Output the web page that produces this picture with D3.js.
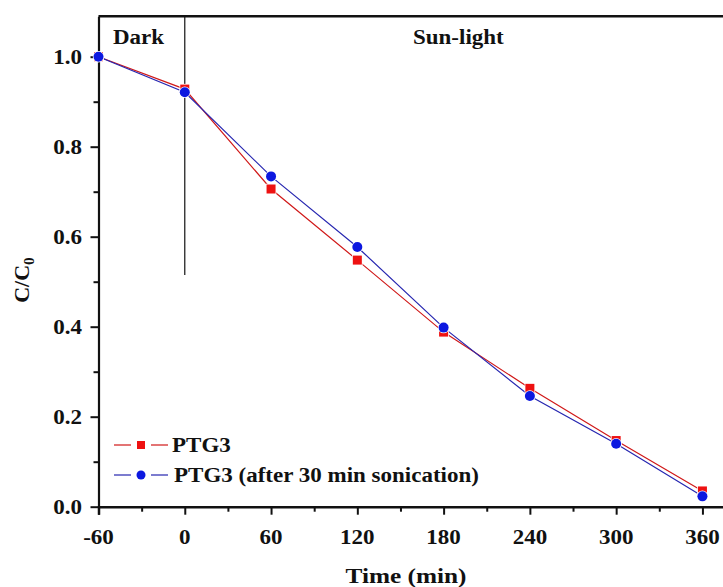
<!DOCTYPE html>
<html>
<head>
<meta charset="utf-8">
<script src="https://cdn.jsdelivr.net/npm/d3@7"></script>
<style>
  body { margin: 0; background: #fff; }
  svg text { font-family: "Liberation Serif", "Times New Roman", serif; font-weight: bold; fill: #111; }
</style>
</head>
<body>
<div id="chart"></div>
<script>
// data
let times = [-60, 0, 60, 120, 180, 240, 300, 360]
let ptg3 = [1.0, 0.928, 0.706, 0.548, 0.388, 0.263, 0.147, 0.035]
let ptg3Sonic = [1.0, 0.921, 0.734, 0.577, 0.398, 0.246, 0.140, 0.023]
let xTicks = [-60, 0, 60, 120, 180, 240, 300, 360]
let xMinor = [-30, 30, 90, 150, 210, 270, 330]
let yTicks = [0, 0.2, 0.4, 0.6, 0.8, 1.0]
let yMinor = [0.1, 0.3, 0.5, 0.7, 0.9]
let seriesNames = ['PTG3', 'PTG3 (after 30 min sonication)']

let W = 723, H = 587
let sx = 1.15   // glyphs in the picture are a bit stretched sideways

let svg = d3.select('#chart').append('svg').attr('width', W).attr('height', H)

let xScale = d3.scaleLinear().domain([-60, 375]).range([98.5, 724])
let yScale = d3.scaleLinear().domain([0, 1.09]).range([506.7, 16.2])

function label(g, x, y, txt, anchor, size) {
  return g.append('text')
    .attr('transform', `translate(${x},${y}) scale(${sx},1)`)
    .attr('text-anchor', anchor)
    .attr('font-size', size)
    .text(txt)
}

// top frame
svg.append('line')
  .attr('x1', xScale(-60)).attr('x2', xScale(375))
  .attr('y1', yScale(1.09)).attr('y2', yScale(1.09))
  .attr('stroke', '#111').attr('stroke-width', 2.5)

// axes
let xAxis = d3.axisBottom(xScale).tickValues(xTicks).tickSize(8).tickFormat('')
let xg = svg.append('g').attr('transform', `translate(0,${yScale(0)})`).call(xAxis)
xg.select('.domain').attr('stroke-width', 2.5).attr('stroke', '#111')
xg.selectAll('.tick line').attr('stroke-width', 2).attr('stroke', '#111')
let xm = svg.append('g').attr('transform', `translate(0,${yScale(0)})`)
  .call(d3.axisBottom(xScale).tickValues(xMinor).tickSize(5).tickFormat(''))
xm.select('.domain').remove()
xm.selectAll('.tick line').attr('stroke-width', 2).attr('stroke', '#111')

let yAxis = d3.axisLeft(yScale).tickValues(yTicks).tickSize(8).tickSizeOuter(0).tickFormat('')
let yg = svg.append('g').attr('transform', `translate(${xScale(-60)},0)`).call(yAxis)
yg.select('.domain').attr('stroke-width', 2.2).attr('stroke', '#111')
yg.selectAll('.tick line').attr('stroke-width', 2).attr('stroke', '#111')
let ym = svg.append('g').attr('transform', `translate(${xScale(-60)},0)`)
  .call(d3.axisLeft(yScale).tickValues(yMinor).tickSize(5).tickFormat(''))
ym.select('.domain').remove()
ym.selectAll('.tick line').attr('stroke-width', 2).attr('stroke', '#111')

// tick labels
xTicks.forEach(t => label(svg, xScale(t), 543.5, t, 'middle', 20))
yTicks.forEach(t => label(svg, 82, yScale(t) + 7, d3.format('.1f')(t), 'end', 20))

// axis titles
label(svg, 406, 583, 'Time (min)', 'middle', 22)
let yl = svg.append('text')
  .attr('transform', 'translate(29,280) rotate(-90) scale(1.1,1)')
  .attr('text-anchor', 'middle')
  .attr('font-size', 20)
yl.append('tspan').text('C/C')
yl.append('tspan').attr('font-size', 14).attr('dy', 5).text('0')

// dark / light split
svg.append('line')
  .attr('x1', xScale(0)).attr('x2', xScale(0))
  .attr('y1', yScale(1.09)).attr('y2', yScale(0.515))
  .attr('stroke', '#111').attr('stroke-width', 1.2)
label(svg, 113, 43.5, 'Dark', 'start', 20)
label(svg, 413, 43.5, 'Sun-light', 'start', 20)

// series
let line = d3.line().x((d, i) => xScale(times[i])).y(d => yScale(d))
svg.append('path').datum(ptg3).attr('d', line)
  .attr('fill', 'none').attr('stroke', '#d01818').attr('stroke-width', 1.2)
svg.append('path').datum(ptg3Sonic).attr('d', line)
  .attr('fill', 'none').attr('stroke', '#2626b0').attr('stroke-width', 1.2)

svg.append('g').selectAll('rect').data(ptg3).enter().append('rect')
  .attr('x', (d, i) => xScale(times[i]) - 4.5)
  .attr('y', d => yScale(d) - 4.5)
  .attr('width', 9).attr('height', 9)
  .attr('fill', '#ee1111')
  .attr('stroke', '#fff').attr('stroke-width', 1.5).attr('paint-order', 'stroke')
svg.append('g').selectAll('circle').data(ptg3Sonic).enter().append('circle')
  .attr('cx', (d, i) => xScale(times[i]))
  .attr('cy', d => yScale(d))
  .attr('r', 5)
  .attr('fill', '#0c18e0')
  .attr('stroke', '#fff').attr('stroke-width', 1.5).attr('paint-order', 'stroke')

// legend: short line pieces either side of the marker
let lg = svg.append('g')
let rows = [445, 475]
let legColors = [['#d01818', '#ee1111'], ['#2626b0', '#0c18e0']]
rows.forEach((ry, k) => {
  lg.append('line').attr('x1', 114).attr('x2', 131).attr('y1', ry).attr('y2', ry)
    .attr('stroke', legColors[k][0]).attr('stroke-width', 1.2)
  lg.append('line').attr('x1', 151).attr('x2', 168).attr('y1', ry).attr('y2', ry)
    .attr('stroke', legColors[k][0]).attr('stroke-width', 1.2)
})
lg.append('rect').attr('x', 137).attr('y', rows[0] - 4).attr('width', 8).attr('height', 8)
  .attr('fill', legColors[0][1])
lg.append('circle').attr('cx', 141).attr('cy', rows[1]).attr('r', 4.5).attr('fill', legColors[1][1])
label(lg, 172, rows[0] + 7, seriesNames[0], 'start', 20)
label(lg, 174, rows[1] + 7, seriesNames[1], 'start', 20)
</script>
</body>
</html>
